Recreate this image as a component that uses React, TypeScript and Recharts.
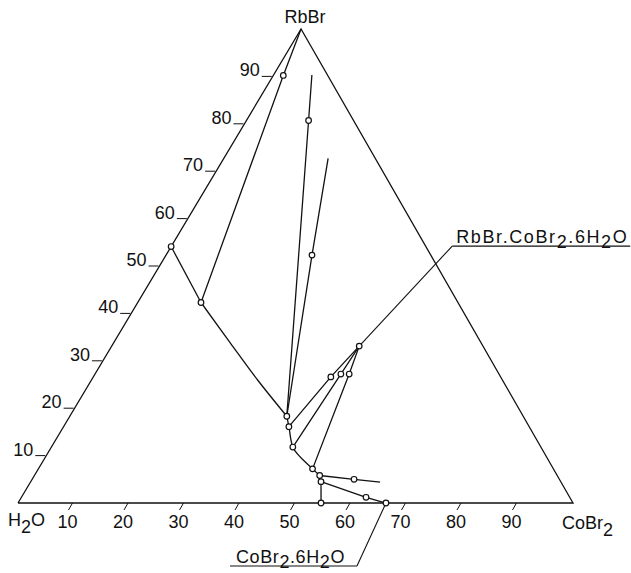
import React from 'react';
import { ComposedChart, XAxis, YAxis, Line, Scatter } from 'recharts';

// Compositions, mass %: [CoBr2, RbBr], water is the rest
const TRIANGLE = [[0, 0], [100, 0], [0, 100], [0, 0]];
const EDGE_TO_KNEE = [[0, 54.1], [11.4, 42.3]];
const RBBR_BRANCH = [[11.4, 42.3], [21.0, 33.8], [30.0, 25.9], [39.1, 18.3]];
const SALT_BRANCH = [[39.1, 18.3], [40.6, 16.1], [43.5, 11.8], [49.4, 7.2], [51.4, 5.8]];
const BRANCH_UPPER = [[51.4, 5.8], [58.0, 5.0], [63.0, 4.4]];
const BRANCH_SHORT = [[51.4, 5.8], [52.3, 4.5]];
const BRANCH_LOWER = [[52.3, 4.5], [62.1, 1.2], [66.3, 0]];
const BRANCH_BINARY = [[52.3, 4.5], [54.6, 0]];

const DOUBLE_SALT = [44.6, 33.1]; // RbBr.CoBr2.6H2O
const HEXAHYDRATE = [66.3, 0]; // CoBr2.6H2O

const TIE_RBBR = [[0, 100], [1.8, 90.2], [11.4, 42.3]];
const TIE_A = [[6.9, 90.3], [11.2, 80.7], [39.1, 18.3]];
const TIE_B = [[18.8, 72.7], [26.3, 52.3], [39.1, 18.3]];
const TIE_C1 = [DOUBLE_SALT, [42.8, 26.6], [40.6, 16.1]];
const TIE_C2 = [DOUBLE_SALT, [44.3, 27.2], [43.5, 11.8]];
const TIE_C3 = [DOUBLE_SALT, [45.8, 27.2], [49.4, 7.2]];

const OPEN_POINTS = [
  [0, 54.1], [11.4, 42.3], [1.8, 90.2], [11.2, 80.7], [26.3, 52.3],
  [39.1, 18.3], [40.6, 16.1], [43.5, 11.8], [49.4, 7.2], [51.4, 5.8],
  [52.3, 4.5], [54.6, 0], [62.1, 1.2], [58.0, 5.0], [42.8, 26.6],
  [44.3, 27.2], [45.8, 27.2], DOUBLE_SALT, HEXAHYDRATE,
];

const CO_TICKS = [10, 20, 30, 40, 50, 60, 70, 80, 90];
const RB_TICKS = [10, 20, 30, 40, 50, 60, 70, 80, 90];

const INK = '#111';
const FONT = "'Liberation Sans', Arial, sans-serif";
const SKEW = 0.51; // the scanned triangle leans a little to the right

const toXY = ([co, rb]: number[]) => ({ x: co + SKEW * rb, y: rb });
const pts = (arr: number[][]) => arr.map(toXY);

// digits right after a letter are subscripts
function chem(text: string, subDy = 7) {
  const spans: { t: string; sub: boolean }[] = [];
  for (let i = 0; i < text.length; i++) {
    const ch = text[i];
    const sub = /\d/.test(ch) && /[A-Za-z]/.test(text[i - 1] ?? '');
    const last = spans[spans.length - 1];
    if (last && last.sub === sub) last.t += ch;
    else spans.push({ t: ch, sub });
  }
  let shift = 0;
  return spans.map((s, i) => {
    const target = s.sub ? subDy : 0;
    const dy = target - shift;
    shift = target;
    return (
      <tspan key={i} dy={dy}>
        {s.t}
      </tspan>
    );
  });
}

const Dot = (p: any) => <circle cx={p.cx} cy={p.cy} r={2.8} fill="#fff" stroke={INK} strokeWidth={1.2} />;

const BottomTick = (p: any) => (
  <g>
    <line x1={p.cx - 1} y1={p.cy} x2={p.cx - 5} y2={p.cy + 7} stroke={INK} strokeWidth={1} />
    <text x={p.cx - 6} y={p.cy + 25} textAnchor="middle" fontSize={18} fontFamily={FONT} fill={INK}>
      {p.payload.label}
    </text>
  </g>
);

const LeftTick = (p: any) => (
  <g>
    <line x1={p.cx - 11} y1={p.cy} x2={p.cx - 1} y2={p.cy} stroke={INK} strokeWidth={1} />
    <text x={p.cx - 13} y={p.cy} textAnchor="end" fontSize={18} fontFamily={FONT} fill={INK}>
      {p.payload.label}
    </text>
  </g>
);

const VertexLabel = (p: any) => {
  const { name, dx, dy, anchor } = p.payload;
  return (
    <text x={p.cx + dx} y={p.cy + dy} textAnchor={anchor} fontSize={18} fontFamily={FONT} fill={INK}>
      {chem(name)}
    </text>
  );
};

const VERTEX_LABELS = [
  { ...toXY([0, 0]), name: 'H2O', dx: -10, dy: 23, anchor: 'start' },
  { ...toXY([100, 0]), name: 'CoBr2', dx: -11, dy: 26, anchor: 'start' },
  { ...toXY([0, 100]), name: 'RbBr', dx: 4, dy: -6, anchor: 'middle' },
];

const Callout = (p: any) => {
  const { name, lx, ly, len, spacing } = p.payload;
  const ex = p.cx + lx;
  const ey = p.cy + ly;
  const tx = len > 0 ? ex + 4 : ex + len + 6;
  return (
    <g>
      <line x1={p.cx} y1={p.cy} x2={ex} y2={ey} stroke={INK} strokeWidth={1.1} />
      <line x1={ex} y1={ey} x2={ex + len} y2={ey} stroke={INK} strokeWidth={1.1} />
      <text x={tx} y={ey - 3} fontSize={18} fontFamily={FONT} fill={INK} letterSpacing={spacing}>
        {chem(name, 5)}
      </text>
    </g>
  );
};

const CALLOUTS = [
  { ...toXY(DOUBLE_SALT), name: 'RbBr.CoBr2.6H2O', lx: 93, ly: -100, len: 178, spacing: 1.6 },
  { ...toXY(HEXAHYDRATE), name: 'CoBr2.6H2O', lx: -29, ly: 63, len: -127, spacing: 0.6 },
];

const LINES: { d: number[][]; smooth?: boolean }[] = [
  { d: EDGE_TO_KNEE },
  { d: RBBR_BRANCH, smooth: true },
  { d: SALT_BRANCH, smooth: true },
  { d: BRANCH_UPPER },
  { d: BRANCH_SHORT },
  { d: BRANCH_LOWER },
  { d: BRANCH_BINARY },
  { d: TIE_RBBR },
  { d: TIE_A },
  { d: TIE_B },
  { d: TIE_C1 },
  { d: TIE_C2 },
  { d: TIE_C3 },
];

export default function App() {
  return (
    <div style={{ position: 'absolute', left: 0, top: 0, background: '#fff' }}>
      <ComposedChart width={631} height={573} margin={{ top: 29, right: 58, bottom: 70, left: 18 }}>
        <XAxis type="number" dataKey="x" domain={[0, 100]} hide />
        <YAxis type="number" dataKey="y" domain={[0, 100]} hide />
        <Line
          data={pts(TRIANGLE)}
          dataKey="y"
          type="linear"
          stroke={INK}
          strokeWidth={1.3}
          dot={false}
          activeDot={false}
          isAnimationActive={false}
        />
        {LINES.map((l, i) => (
          <Line
            key={i}
            data={pts(l.d)}
            dataKey="y"
            type={l.smooth ? 'monotoneY' : 'linear'}
            stroke={INK}
            strokeWidth={1.3}
            dot={false}
            activeDot={false}
            isAnimationActive={false}
          />
        ))}
        <Scatter data={CALLOUTS} shape={Callout} isAnimationActive={false} />
        <Scatter data={pts(OPEN_POINTS)} shape={Dot} isAnimationActive={false} />
        <Scatter
          data={CO_TICKS.map((k) => ({ ...toXY([k, 0]), label: k }))}
          shape={BottomTick}
          isAnimationActive={false}
        />
        <Scatter
          data={RB_TICKS.map((k) => ({ ...toXY([0, k]), label: k }))}
          shape={LeftTick}
          isAnimationActive={false}
        />
        <Scatter data={VERTEX_LABELS} shape={VertexLabel} isAnimationActive={false} />
      </ComposedChart>
    </div>
  );
}
